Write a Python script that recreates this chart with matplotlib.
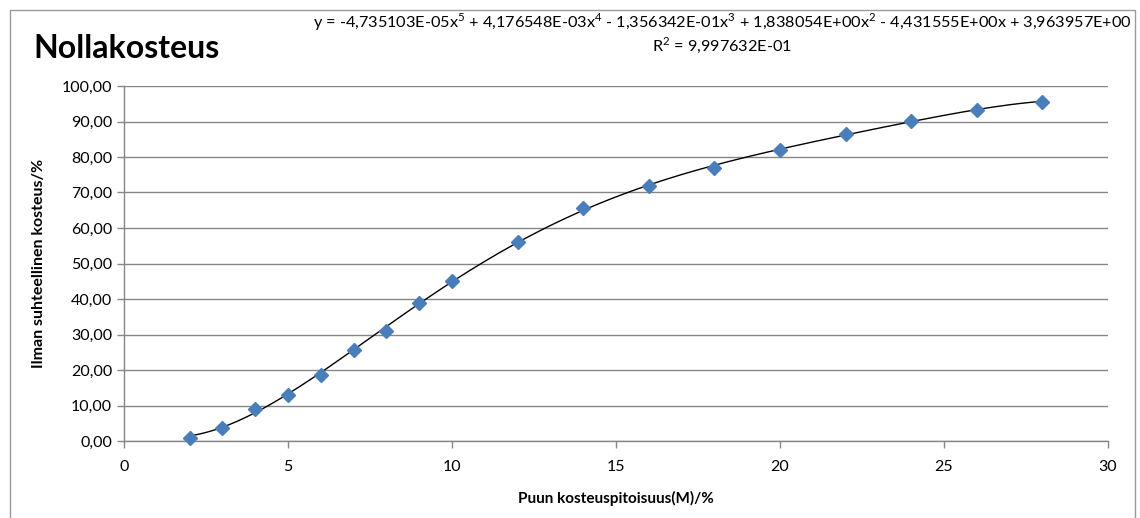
import numpy as np
import matplotlib
matplotlib.use("Agg")
import matplotlib.pyplot as plt
from matplotlib.patches import Rectangle

plt.rcParams['font.family'] = ['Lato', 'DejaVu Sans']

# Data
moisture_wood = [2, 3, 4, 5, 6, 7, 8, 9, 10, 12, 14, 16, 18, 20, 22, 24, 26, 28]
rel_humidity = [0.8, 3.8, 9.1, 13.0, 18.6, 25.6, 31.1, 38.9, 45.0, 56.0, 65.7,
                71.9, 76.8, 82.0, 86.6, 90.1, 93.1, 95.6]
# Trendline coefficients (5th order polynomial, from the chart's equation)
poly_coef = [-4.735103e-05, 4.176548e-03, -1.356342e-01, 1.838054e+00, -4.431555e+00, 3.963957e+00]
x_ticks = [0, 5, 10, 15, 20, 25, 30]
y_ticks = [0, 10, 20, 30, 40, 50, 60, 70, 80, 90, 100]

title = "Nollakosteus"
xlabel = "Puun kosteuspitoisuus(M)/%"
ylabel = "Ilman suhteellinen kosteus/%"
eq_text = ("y = -4,735103E-05x$^5$ + 4,176548E-03x$^4$ - 1,356342E-01x$^3$ + "
           "1,838054E+00x$^2$ - 4,431555E+00x + 3,963957E+00")
r2_text = "R$^2$ = 9,997632E-01"

W, H = 1140, 518
fig = plt.figure(figsize=(W/100, H/100), dpi=100)
plt.rcParams['mathtext.fontset'] = 'custom'
plt.rcParams['mathtext.rm'] = 'Lato'

# outer chart border
fig.patches.append(Rectangle((10/W, -0.01), (1135-10)/W, 1 - 10/H + 0.01,
                             transform=fig.transFigure, fill=False,
                             edgecolor='#9a9a9a', linewidth=1.0))

ax = fig.add_axes([124/W, 1-441/H, (1108-124)/W, (441-86)/H])
grey = '#868686'
ax.set_xlim(0, 30)
ax.set_ylim(0, 100)
ax.set_xticks(x_ticks)
ax.set_yticks(y_ticks)
ax.set_xticklabels([str(v) for v in x_ticks])
ax.set_yticklabels([f"{v:.2f}".replace('.', ',') for v in y_ticks])
ax.grid(axis='y', color=grey, linewidth=1.0)
ax.set_axisbelow(True)
for s in ['top', 'right']:
    ax.spines[s].set_visible(False)
for s in ['left', 'bottom']:
    ax.spines[s].set_color(grey)
    ax.spines[s].set_linewidth(1.0)
ax.tick_params(axis='both', direction='out', color=grey, length=5, width=1,
               labelsize=11.5, labelcolor='black')
ax.tick_params(axis='x', pad=9)

xs = np.linspace(min(moisture_wood), max(moisture_wood), 300)
ax.plot(xs, np.polyval(poly_coef, xs), color='black', linewidth=1.0, zorder=3)
ax.plot(moisture_wood, rel_humidity, linestyle='none', marker='D', markersize=7,
        color='#4A7EBB', markeredgecolor='#4A7EBB', zorder=4, clip_on=False)

ax.set_xlabel(xlabel, fontsize=11, fontweight='bold', labelpad=12)
ax.set_ylabel(ylabel, fontsize=11.5, fontweight='bold', labelpad=11)

fig.text(33/W, 1-48/H, title, fontsize=23, fontweight='bold', va='center', ha='left')
fig.text(722/W, 1-22/H, eq_text, fontsize=11.7, ha='center', va='center')
fig.text(722/W, 1-45/H, r2_text, fontsize=11.7, ha='center', va='center')

fig.savefig("out.png", dpi=100)
